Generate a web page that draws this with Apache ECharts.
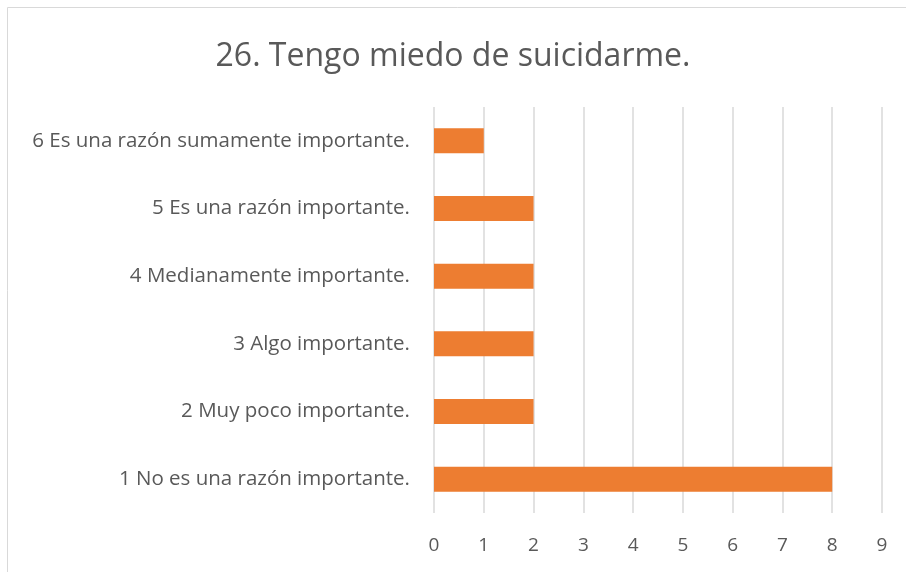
<!DOCTYPE html>
<html>
<head>
    <meta charset="utf-8">
    <title>26. Tengo miedo de suicidarme.</title>
    <script src="https://cdn.jsdelivr.net/npm/echarts@6/dist/echarts.min.js"></script>
    <style>
        html, body { margin: 0; padding: 0; background: #fff; }
    </style>
</head>
<body>
<div id="chartmain" style="width:906px; height:572px;"></div>
<script>
    // categorias (de abajo hacia arriba) y valores
    var categorias = [
        '1 No es una razón importante.',
        '2 Muy poco importante.',
        '3 Algo importante.',
        '4 Medianamente importante.',
        '5 Es una razón importante.',
        '6 Es una razón sumamente importante.'
    ];
    var valores = [8, 2, 2, 2, 2, 1];
    var ticks = [0, 1, 2, 3, 4, 5, 6, 7, 8, 9];

    var fuente = '"Open Sans", "Noto Sans", sans-serif';

    var myChart = echarts.init(document.getElementById('chartmain'));
    var option = {
        animation: false,
        title: {
            text: '26. Tengo miedo de suicidarme.',
            left: 'center',
            top: 36,
            textStyle: {
                fontFamily: fuente,
                fontSize: 32,
                fontWeight: 'normal',
                color: '#595959'
            }
        },
        graphic: [{
            type: 'rect',
            shape: {x: 7.5, y: 7.5, width: 920, height: 600},
            style: {fill: 'none', stroke: '#d9d9d9', lineWidth: 1}
        }],
        grid: {
            left: 434,
            right: 24,
            top: 107,
            bottom: 59,
            containLabel: false
        },
        xAxis: {
            type: 'value',
            min: 0,
            max: 9,
            interval: 1,
            axisLine: {show: false},
            axisTick: {show: false},
            axisLabel: {
                fontFamily: fuente,
                fontSize: 19,
                color: '#595959',
                margin: 23,
                formatter: function (v) { return ticks.indexOf(v) >= 0 ? String(v) : ''; }
            },
            splitLine: {lineStyle: {color: '#d9d9d9', width: 1.5}}
        },
        yAxis: {
            type: 'category',
            data: categorias,
            axisLine: {show: false},
            axisTick: {show: false},
            axisLabel: {
                fontFamily: fuente,
                fontSize: 20.5,
                color: '#595959',
                margin: 24
            }
        },
        series: [{
            type: 'bar',
            data: valores,
            barWidth: 25,
            itemStyle: {color: '#ED7D31'}
        }]
    };
    myChart.setOption(option);
</script>
</body>
</html>
